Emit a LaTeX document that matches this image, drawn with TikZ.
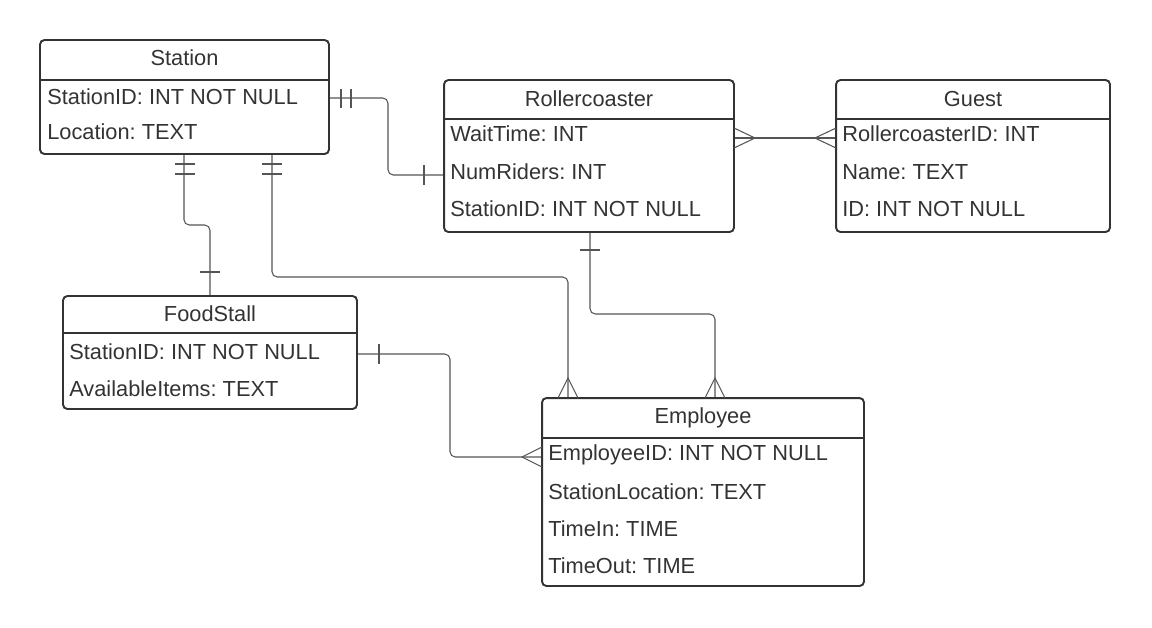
\documentclass[tikz,border=0pt]{standalone}
\usepackage{fontspec}
\setmainfont{Liberation Sans}
\frenchspacing
\definecolor{ink}{HTML}{333333}
\definecolor{wire}{HTML}{555555}
\tikzset{
  entity/.style={draw=ink, line width=1.1pt, rounded corners=2.5pt, inner sep=0pt},
  title/.style={text=ink, inner sep=0pt, font=\fontsize{12.4}{15}\selectfont},
  attr/.style={text=ink, anchor=west, inner sep=0pt, font=\fontsize{12.4}{15}\selectfont},
  sep/.style={draw=ink, line width=1.1pt},
  wire/.style={draw=wire, line width=0.6pt, rounded corners=3pt},
  tick/.style={draw=wire, line width=0.6pt}
}
\begin{document}
\begin{tikzpicture}[x=0.02cm,y=-0.02cm]
\useasboundingbox (0,0) rectangle (1152,627);
% tables
\node[entity, minimum width=5.78cm, minimum height=2.28cm] (station) at (184.5,97) {};
\draw[sep] (station.west |- 0,80) -- (station.east |- 0,80);
\node[title] (stationT) at (184.5,58) {Station};
\node[attr] (st1) at (47,97) {StationID: INT NOT NULL};
\node[attr] (st2) at (47,132) {Location: TEXT};

\node[entity, minimum width=5.8cm, minimum height=3.04cm] (roller) at (589,156) {};
\draw[sep] (roller.west |- 0,119) -- (roller.east |- 0,119);
\node[title] (rollerT) at (589,99) {Rollercoaster};
\node[attr] (rc1) at (450,134) {WaitTime: INT};
\node[attr] (rc2) at (450,172) {NumRiders: INT};
\node[attr] (rc3) at (450,209) {StationID: INT NOT NULL};

\node[entity, minimum width=5.48cm, minimum height=3.04cm] (guest) at (973,156) {};
\draw[sep] (guest.west |- 0,119) -- (guest.east |- 0,119);
\node[title] (guestT) at (973,99) {Guest};
\node[attr] (gu1) at (842,134) {RollercoasterID: INT};
\node[attr] (gu2) at (842,172) {Name: TEXT};
\node[attr] (gu3) at (842,209) {ID: INT NOT NULL};

\node[entity, minimum width=5.88cm, minimum height=2.26cm] (food) at (210,352.5) {};
\draw[sep] (food.west |- 0,333) -- (food.east |- 0,333);
\node[title] (foodT) at (210,314) {FoodStall};
\node[attr] (fs1) at (69,352) {StationID: INT NOT NULL};
\node[attr] (fs2) at (69,389) {AvailableItems: TEXT};

\node[entity, minimum width=6.44cm, minimum height=3.76cm] (emp) at (703,492) {};
\draw[sep] (emp.west |- 0,438) -- (emp.east |- 0,438);
\node[title] (empT) at (703,418) {Employee};
\node[attr] (em1) at (548,455) {EmployeeID: INT NOT NULL};
\node[attr] (em2) at (548,492) {StationLocation: TEXT};
\node[attr] (em3) at (548,529) {TimeIn: TIME};
\node[attr] (em4) at (548,566) {TimeOut: TIME};

% station -- rollercoaster
\draw[wire] (station.east |- 0,98) -- (388,98) |- (roller.west |- 0,175);
\draw[tick] (341,89) -- (341,108) (351,89) -- (351,108);
\draw[tick] (424,165) -- (424,185);
% station -- foodstall
\draw[wire] (station.south -| 184,0) -- (184,225) -| (food.north);
\draw[tick] (175,164) -- (195,164) (175,174) -- (195,174);
\draw[tick] (200,272) -- (220,272);
% station -- employee
\draw[wire] (station.south -| 272,0) -- (272,277) -| (emp.north -| 568,0);
\draw[tick] (262,164) -- (282,164) (262,174) -- (282,174);
\draw[tick] (558,398) -- (568,378) -- (578,398);
% rollercoaster -- employee
\draw[wire] (roller.south -| 590,0) -- (590,314) -| (emp.north -| 715,0);
\draw[tick] (580,250) -- (600,250);
\draw[tick] (705,398) -- (715,378) -- (725,398);
% rollercoaster -- guest
\draw[wire] (roller.east |- 0,138) -- (guest.west |- 0,138);
\draw[tick] (734,128) -- (755,138) -- (734,148);
\draw[tick] (836,128) -- (815,138) -- (836,148);
% foodstall -- employee
\draw[wire] (food.east |- 0,354) -- (450,354) |- (emp.west |- 0,457);
\draw[tick] (379,344) -- (379,364);
\draw[tick] (542,447) -- (522,457) -- (542,467);
\end{tikzpicture}
\end{document}
